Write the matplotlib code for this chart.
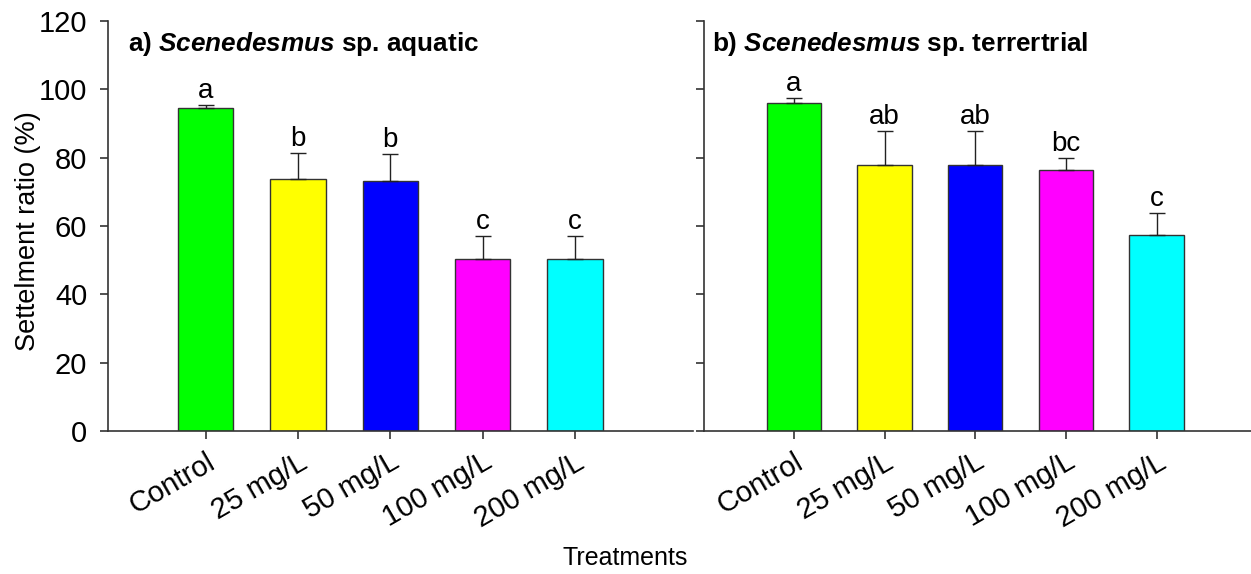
import numpy as np
import matplotlib.pyplot as plt

plt.rcParams['font.family'] = ['Liberation Sans', 'DejaVu Sans']
plt.rcParams['mathtext.fontset'] = 'custom'
plt.rcParams['mathtext.it'] = 'Liberation Sans:italic:bold'
plt.rcParams['mathtext.rm'] = 'Liberation Sans:bold'

treatments = ['Control', '25 mg/L', '50 mg/L', '100 mg/L', '200 mg/L']
colors = ['#00ff00', '#ffff00', '#0000ff', '#ff00ff', '#00ffff']

aquatic_mean = [94.6, 73.7, 73.3, 50.2, 50.2]
aquatic_err = [0.8, 7.6, 7.7, 7.0, 7.0]
aquatic_letters = ['a', 'b', 'b', 'c', 'c']

terr_mean = [95.9, 77.8, 77.8, 76.3, 57.5]
terr_err = [1.7, 10.1, 10.1, 3.5, 6.2]
terr_letters = ['a', 'ab', 'ab', 'bc', 'c']

fig = plt.figure(figsize=(12.51, 5.74), dpi=100)
ax1 = fig.add_axes([0.0863, 0.2491, 0.4677, 0.7143])
ax2 = fig.add_axes([0.5628, 0.2491, 0.4372, 0.7143])

x = np.arange(len(treatments))
edge = '#333333'


def panel(ax, means, errs, letters, title, xlim, title_x):
    ax.bar(x, means, width=0.6, color=colors, edgecolor=edge, linewidth=1.0, zorder=2)
    ax.errorbar(x, means, yerr=[np.zeros(len(errs)), errs], fmt='none',
                ecolor='#222222', elinewidth=1.0, capsize=6, capthick=1.0, zorder=3)
    for xi, m, e, lab in zip(x, means, errs, letters):
        ax.text(xi, m + e + 0.3, lab, ha='center', va='bottom', fontsize=20)
    ax.set_ylim(0, 120)
    ax.set_xlim(*xlim)
    ax.set_yticks(np.arange(0, 121, 20))
    ax.set_xticks(x)
    ax.set_xticklabels(treatments, rotation=30, ha='right', rotation_mode='anchor', fontsize=19)
    for s in ['top', 'right']:
        ax.spines[s].set_visible(False)
    for s in ['left', 'bottom']:
        ax.spines[s].set_color(edge)
        ax.spines[s].set_linewidth(1.2)
    ax.tick_params(direction='out', length=6, width=1.2, color=edge, labelsize=21)
    ax.tick_params(axis='y', pad=9)
    ax.tick_params(axis='x', pad=6)
    ax.text(title_x, 0.945, title, transform=ax.transAxes,
            fontsize=18.8, fontweight='bold', ha='left', va='center')


panel(ax1, aquatic_mean, aquatic_err, aquatic_letters,
      r'a) $\mathit{Scenedesmus}$ sp. aquatic', (-1.06, 5.28), 0.034)
panel(ax2, terr_mean, terr_err, terr_letters,
      r'b) $\mathit{Scenedesmus}$ sp. terrertrial', (-0.99, 5.04), 0.015)
ax2.tick_params(axis='y', labelleft=False)

ax1.set_ylabel('Settelment ratio (%)', fontsize=19.5)
ax1.yaxis.set_label_coords(-0.1145, 0.488)
fig.text(0.5, 0.028, 'Treatments', ha='center', va='center', fontsize=18)

fig.savefig('out.png', dpi=100)
